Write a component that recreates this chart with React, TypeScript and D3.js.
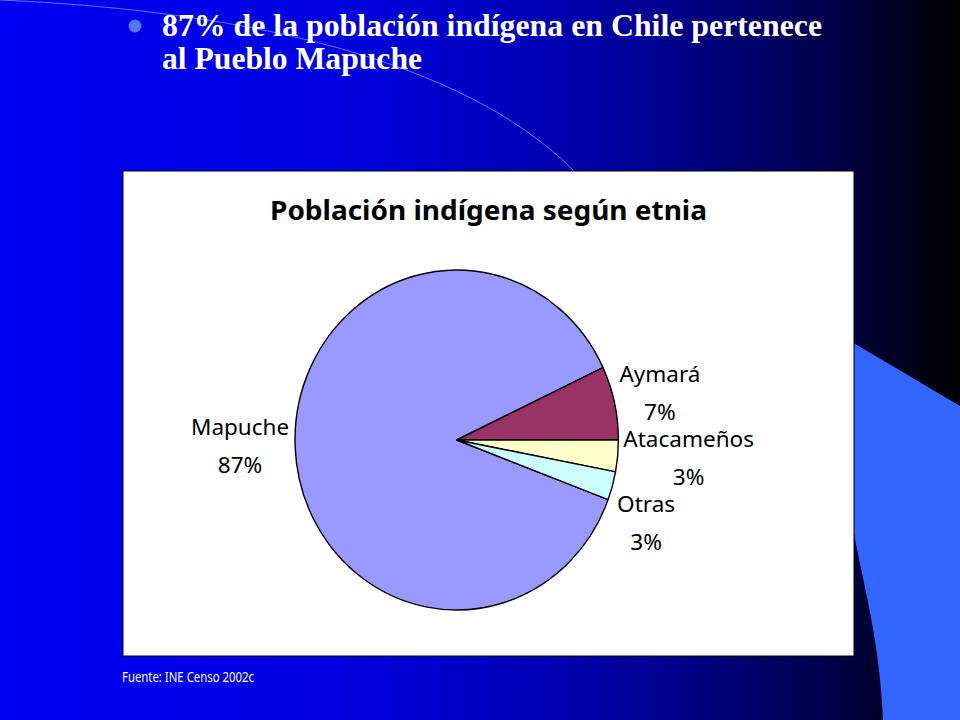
import { useEffect, useRef } from 'react';
import * as d3 from 'd3';

// datos del gráfico (Censo 2002)
const etnias = ['Mapuche', 'Aymará', 'Atacameños', 'Otras'];
const porcentajes = [87.3, 7.0, 3.0, 2.7];
const colores = ['#9999FF', '#993366', '#FFFFCC', '#CCFFFF'];

const headline = ['87% de la población indígena en Chile pertenece', 'al Pueblo Mapuche'];
const chartTitle = 'Población indígena según etnia';
const fuente = 'Fuente: INE Censo 2002c';

type Datum = { name: string; value: number; color: string };

const W = 960;
const H = 720;

export default function App() {
  const svgRef = useRef<SVGSVGElement>(null);

  useEffect(() => {
    if (!svgRef.current) return;
    const svg = d3.select(svgRef.current);
    svg.selectAll('*').remove();
    svg.attr('width', W).attr('height', H);

    // background
    const defs = svg.append('defs');
    const grad = defs.append('linearGradient').attr('id', 'bg').attr('x1', 0).attr('x2', 1).attr('y1', 0).attr('y2', 0);
    [
      [0, '#0000F4'],
      [0.35, '#0000E0'],
      [0.55, '#0000B8'],
      [0.7, '#00008C'],
      [0.85, '#000050'],
      [0.95, '#00001A'],
      [1, '#000004'],
    ].forEach(([o, c]) => grad.append('stop').attr('offset', o as number).attr('stop-color', c as string));
    svg.append('rect').attr('width', W).attr('height', H).attr('fill', 'url(#bg)');

    // decorative shape + thin arc
    svg
      .append('path')
      .attr('d', 'M840,335 L960,406 L960,720 L883,720 C880,640 862,580 854,533 L840,533 Z')
      .attr('fill', '#3366FF');
    svg
      .append('path')
      .attr('d', 'M0,0 C230,10 460,55 575,172')
      .attr('fill', 'none')
      .attr('stroke', '#7A8CFF')
      .attr('stroke-opacity', 0.8)
      .attr('stroke-width', 1);

    // headline
    svg.append('circle').attr('cx', 135).attr('cy', 26).attr('r', 6.5).attr('fill', '#5577FF');
    headline.forEach((line, i) => {
      svg
        .append('text')
        .attr('x', 162)
        .attr('y', 36 + i * 33)
        .attr('font-family', '"Liberation Serif", "Times New Roman", serif')
        .attr('font-weight', 700)
        .attr('font-size', 31.5)
        .attr('fill', '#fff')
        .attr('textLength', i === 0 ? 660 : 260)
        .attr('lengthAdjust', 'spacingAndGlyphs')
        .text(line);
    });

    // chart box
    const box = { x: 123, y: 171, w: 731, h: 485 };
    svg
      .append('rect')
      .attr('x', box.x)
      .attr('y', box.y)
      .attr('width', box.w)
      .attr('height', box.h)
      .attr('fill', '#fff')
      .attr('stroke', '#000')
      .attr('stroke-width', 1);

    svg
      .append('text')
      .attr('x', 488.5)
      .attr('y', 220)
      .attr('text-anchor', 'middle')
      .attr('font-family', '"Noto Sans", sans-serif')
      .attr('font-weight', 700)
      .attr('font-size', 27.5)
      .attr('fill', '#000')
      .attr('textLength', 437)
      .attr('lengthAdjust', 'spacingAndGlyphs')
      .text(chartTitle);

    // pie
    const cx = 456.7;
    const cy = 440;
    const rx = 161.7;
    const ry = 170;
    const data: Datum[] = etnias.map((name, i) => ({ name, value: porcentajes[i], color: colores[i] }));
    const total = d3.sum(porcentajes);
    // Aymará ends at 3 o'clock, Atacameños/Otras follow below it
    const start = Math.PI / 2 + ((porcentajes[2] + porcentajes[3]) / total) * 2 * Math.PI;
    const pie = d3
      .pie<Datum>()
      .value((d) => d.value)
      .sort(null)
      .startAngle(start)
      .endAngle(start + 2 * Math.PI);
    const arc = d3.arc<d3.PieArcDatum<Datum>>().innerRadius(0).outerRadius(rx);
    const arcs = pie(data);

    svg
      .append('g')
      .attr('transform', `translate(${cx},${cy}) scale(1,${ry / rx})`)
      .selectAll('path')
      .data(arcs)
      .join('path')
      .attr('d', arc)
      .attr('fill', (d) => d.data.color)
      .attr('stroke', '#000')
      .attr('stroke-width', 1.4)
      .attr('stroke-linejoin', 'round')
      .attr('vector-effect', 'non-scaling-stroke');

    // labels: name over percentage, just outside the slice, pushed apart on the right side
    const pad = 6;
    const gap = 10;
    const labels = arcs.map((d) => {
      const a = (d.startAngle + d.endAngle) / 2;
      const g = svg.append('g').attr('font-family', '"Noto Sans", sans-serif').attr('font-size', 22.5).attr('fill', '#000');
      const t1 = g.append('text').attr('text-anchor', 'middle').text(d.data.name);
      const t2 = g
        .append('text')
        .attr('text-anchor', 'middle')
        .text(`${Math.round((d.data.value / total) * 100)}%`);
      const w = Math.max(
        (t1.node() as SVGTextElement).getComputedTextLength(),
        (t2.node() as SVGTextElement).getComputedTextLength()
      );
      const x = cx + (rx + pad + w / 2) * Math.sin(a);
      const y = cy - (ry + pad + 29) * Math.cos(a);
      return { t1, t2, a, x, y };
    });
    const right = labels.filter((l) => Math.sin(l.a) > 0).sort((p, q) => p.y - q.y);
    for (let i = 1; i < right.length; i++) {
      const min = right[i - 1].y + 55 + gap;
      if (right[i].y < min) right[i].y = min;
    }
    labels.forEach((l) => {
      l.t1.attr('x', l.x).attr('y', l.y - 13);
      l.t2.attr('x', l.x).attr('y', l.y + 25);
    });

    // source
    svg
      .append('text')
      .attr('x', 122)
      .attr('y', 682)
      .attr('font-family', '"Noto Sans", sans-serif')
      .attr('font-size', 13.5)
      .attr('fill', '#fff')
      .attr('textLength', 132)
      .attr('lengthAdjust', 'spacingAndGlyphs')
      .text(fuente);
  }, []);

  return <svg ref={svgRef} style={{ position: 'absolute', left: 0, top: 0, display: 'block' }} />;
}
